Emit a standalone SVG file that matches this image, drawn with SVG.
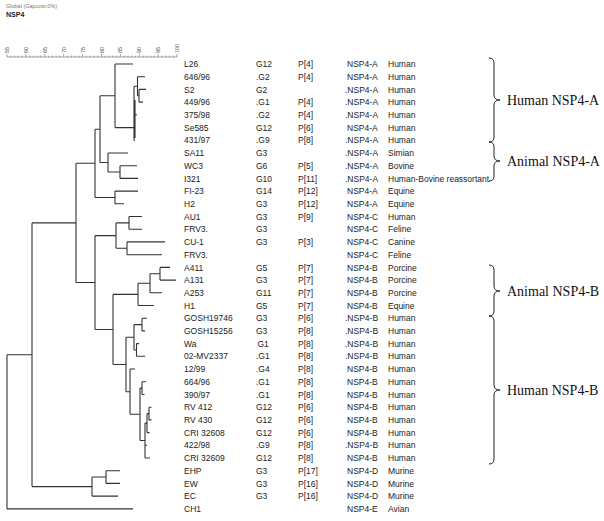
<svg xmlns="http://www.w3.org/2000/svg" width="604" height="521" viewBox="0 0 604 521">
<style>
.t{font-family:"Liberation Sans",Arial,sans-serif;font-size:8.5px;fill:#222}
.ax{font-family:"Liberation Sans",Arial,sans-serif;font-size:5.5px;fill:#555}
.br{fill:none;stroke:#222;stroke-width:1}
.bl{font-family:"Liberation Serif","Times New Roman",serif;font-size:14px;fill:#111}
.tr{fill:none;stroke:#333;stroke-width:1.1}
.tk{stroke:#666;stroke-width:0.6}
</style>
<rect width="604" height="521" fill="#fff"/>
<g id="header">
<text x="6" y="8" class="ax" style="font-size:5.5px;fill:#777">Global (Gapcost:0%)</text>
<text x="6" y="17" class="t" style="font-size:7px;font-weight:bold">NSP4</text>
</g>
<g id="scale">
<line x1="7" y1="57" x2="177" y2="57" class="tk"/>
<path class="tk" d="M7 57V54M10.8 57V55.5M14.6 57V55.5M18.3 57V55.5M22.1 57V55.5M25.9 57V54M29.7 57V55.5M33.5 57V55.5M37.2 57V55.5M41 57V55.5M44.8 57V54M48.6 57V55.5M52.4 57V55.5M56.1 57V55.5M59.9 57V55.5M63.7 57V54M67.5 57V55.5M71.3 57V55.5M75 57V55.5M78.8 57V55.5M82.6 57V54M86.4 57V55.5M90.2 57V55.5M93.9 57V55.5M97.7 57V55.5M101.5 57V54M105.3 57V55.5M109.1 57V55.5M112.8 57V55.5M116.6 57V55.5M120.4 57V54M124.2 57V55.5M128 57V55.5M131.7 57V55.5M135.5 57V55.5M139.3 57V54M143.1 57V55.5M146.9 57V55.5M150.6 57V55.5M154.4 57V55.5M158.2 57V54M162 57V55.5M165.8 57V55.5M169.5 57V55.5M173.3 57V55.5M177 57V54"/>
<text class="ax" transform="translate(9,53) rotate(-90)">55</text>
<text class="ax" transform="translate(27.9,53) rotate(-90)">60</text>
<text class="ax" transform="translate(46.8,53) rotate(-90)">65</text>
<text class="ax" transform="translate(65.7,53) rotate(-90)">70</text>
<text class="ax" transform="translate(84.6,53) rotate(-90)">75</text>
<text class="ax" transform="translate(103.5,53) rotate(-90)">80</text>
<text class="ax" transform="translate(122.4,53) rotate(-90)">85</text>
<text class="ax" transform="translate(141.3,53) rotate(-90)">90</text>
<text class="ax" transform="translate(160.2,53) rotate(-90)">95</text>
<text class="ax" transform="translate(179,53) rotate(-90)">100</text>
</g>
<g id="connectors">
<path class="tr" d="M139 89.4V102.1M139 89.4H146M139 102.1H143
M137.5 76.7V95.8M137.5 76.7H145M137.5 95.8H139
M134 86.2V140.3M135 100V138M134 86.2H137.5M134 114.8H137M134 127.6H135.5M134 140.3H135
M115 64V127.6M115 64H133M115 127.6H134
M120 165.7V178.4M120 165.7H137M120 178.4H138
M108 153V172M108 153H128M108 172H120
M100 95.8V162.5M100 95.8H115M100 162.5H108
M115 191.1V203.8M115 191.1H138M115 203.8H124
M95 129.2V197.5M95 129.2H100M95 197.5H115
M129 216.5V229.2M129 216.5H142M129 229.2H142
M127 241.9V254.7M127 241.9H165M127 254.7H162
M116 222.9V248.3M116 222.9H129M116 248.3H127
M160 267.4V280.1M160 267.4H170M160 280.1H176
M150 273.7V292.8M150 273.7H160M150 292.8H162
M138 283.3V305.5M138 283.3H150M138 305.5H154
M142 318.2V330.9M142 318.2H147M142 330.9H145
M136.5 343.6V356.3M136.5 343.6H139M136.5 356.3H145
M134 324.6V350M134 324.6H142M134 350H136.5
M142 381.8V394.5M142 381.8H146M142 394.5H144.5
M149 407.2V419.9M149 407.2H151.5M149 419.9H151.5
M147 413.6V432.6M147 413.6H149M147 432.6H149.5
M145 423.1V458M145 423.1H147M145 445.3H147M145 458H150
M140 388.1V440.5M140 388.1H142M140 440.5H145
M130 369V414.3M130 369H135M130 414.3H140
M126 337.3V391.7M126 337.3H134M126 391.7H130
M113 294.4V364.5M113 294.4H138M113 364.5H126
M95 235.6V329.5M95 235.6H116M95 329.5H113
M76 163.3V282.5M76 163.3H95M76 282.5H95
M106 470.7V483.4M106 470.7H120M106 483.4H120
M92 477V496.1M92 477H106M92 496.1H118
M32 222.9V486.6M32 222.9H76M32 486.6H92
M7 354.7V508.9M7 354.7H32M7 508.9H133"/>
</g>
<g id="table">
<text class="t" y="67.1"><tspan x="184">L26</tspan><tspan x="256">G12</tspan><tspan x="298">P[4]</tspan><tspan x="347">NSP4-A</tspan><tspan x="388">Human</tspan></text>
<text class="t" y="79.8"><tspan x="184">646/96</tspan><tspan x="256">.G2</tspan><tspan x="298">P[4]</tspan><tspan x="347">NSP4-A</tspan><tspan x="388">Human</tspan></text>
<text class="t" y="92.5"><tspan x="184">S2</tspan><tspan x="256">G2</tspan><tspan x="345">.NSP4-A</tspan><tspan x="388">Human</tspan></text>
<text class="t" y="105.2"><tspan x="184">449/96</tspan><tspan x="256">.G1</tspan><tspan x="298">P[4]</tspan><tspan x="345">.NSP4-A</tspan><tspan x="388">Human</tspan></text>
<text class="t" y="117.9"><tspan x="184">375/98</tspan><tspan x="256">.G2</tspan><tspan x="298">P[4]</tspan><tspan x="345">.NSP4-A</tspan><tspan x="388">Human</tspan></text>
<text class="t" y="130.7"><tspan x="184">Se585</tspan><tspan x="256">G12</tspan><tspan x="298">P[6]</tspan><tspan x="347">NSP4-A</tspan><tspan x="388">Human</tspan></text>
<text class="t" y="143.4"><tspan x="184">431/97</tspan><tspan x="256">.G9</tspan><tspan x="298">P[8]</tspan><tspan x="345">.NSP4-A</tspan><tspan x="388">Human</tspan></text>
<text class="t" y="156.1"><tspan x="184">SA11</tspan><tspan x="256">G3</tspan><tspan x="345">.NSP4-A</tspan><tspan x="388">Simian</tspan></text>
<text class="t" y="168.8"><tspan x="184">WC3</tspan><tspan x="256">G6</tspan><tspan x="298">P[5]</tspan><tspan x="345">.NSP4-A</tspan><tspan x="388">Bovine</tspan></text>
<text class="t" y="181.5"><tspan x="184">I321</tspan><tspan x="256">G10</tspan><tspan x="298">P[11]</tspan><tspan x="345">.NSP4-A</tspan><tspan x="388">Human-Bovine reassortant</tspan></text>
<text class="t" y="194.2"><tspan x="184">FI-23</tspan><tspan x="256">G14</tspan><tspan x="298">P[12]</tspan><tspan x="347">NSP4-A</tspan><tspan x="388">Equine</tspan></text>
<text class="t" y="206.9"><tspan x="184">H2</tspan><tspan x="256">G3</tspan><tspan x="298">P[12]</tspan><tspan x="347">NSP4-A</tspan><tspan x="388">Equine</tspan></text>
<text class="t" y="219.6"><tspan x="184">AU1</tspan><tspan x="256">G3</tspan><tspan x="298">P[9]</tspan><tspan x="347">NSP4-C</tspan><tspan x="388">Human</tspan></text>
<text class="t" y="232.3"><tspan x="184">FRV3.</tspan><tspan x="256">G3</tspan><tspan x="347">NSP4-C</tspan><tspan x="388">Feline</tspan></text>
<text class="t" y="245"><tspan x="184">CU-1</tspan><tspan x="256">G3</tspan><tspan x="298">P[3]</tspan><tspan x="347">NSP4-C</tspan><tspan x="388">Canine</tspan></text>
<text class="t" y="257.8"><tspan x="184">FRV3.</tspan><tspan x="347">NSP4-C</tspan><tspan x="388">Feline</tspan></text>
<text class="t" y="270.5"><tspan x="184">A411</tspan><tspan x="256">G5</tspan><tspan x="298">P[7]</tspan><tspan x="347">NSP4-B</tspan><tspan x="388">Porcine</tspan></text>
<text class="t" y="283.2"><tspan x="184">A131</tspan><tspan x="256">G3</tspan><tspan x="298">P[7]</tspan><tspan x="347">NSP4-B</tspan><tspan x="388">Porcine</tspan></text>
<text class="t" y="295.9"><tspan x="184">A253</tspan><tspan x="256">G11</tspan><tspan x="298">P[7]</tspan><tspan x="347">NSP4-B</tspan><tspan x="388">Porcine</tspan></text>
<text class="t" y="308.6"><tspan x="184">H1</tspan><tspan x="256">G5</tspan><tspan x="298">P[7]</tspan><tspan x="347">NSP4-B</tspan><tspan x="388">Equine</tspan></text>
<text class="t" y="321.3"><tspan x="184">GOSH19746</tspan><tspan x="256">G3</tspan><tspan x="298">P[6]</tspan><tspan x="345">.NSP4-B</tspan><tspan x="388">Human</tspan></text>
<text class="t" y="334"><tspan x="184">GOSH15256</tspan><tspan x="256">G3</tspan><tspan x="298">P[8]</tspan><tspan x="345">.NSP4-B</tspan><tspan x="388">Human</tspan></text>
<text class="t" y="346.7"><tspan x="184">Wa</tspan><tspan x="257.5">G1</tspan><tspan x="298">P[8]</tspan><tspan x="345">.NSP4-B</tspan><tspan x="388">Human</tspan></text>
<text class="t" y="359.4"><tspan x="184">02-MV2337</tspan><tspan x="256">.G1</tspan><tspan x="298">P[8]</tspan><tspan x="345">.NSP4-B</tspan><tspan x="388">Human</tspan></text>
<text class="t" y="372.1"><tspan x="184">12/99</tspan><tspan x="256">.G4</tspan><tspan x="298">P[8]</tspan><tspan x="347">NSP4-B</tspan><tspan x="388">Human</tspan></text>
<text class="t" y="384.9"><tspan x="184">664/96</tspan><tspan x="256">.G1</tspan><tspan x="298">P[8]</tspan><tspan x="347">NSP4-B</tspan><tspan x="388">Human</tspan></text>
<text class="t" y="397.6"><tspan x="184">390/97</tspan><tspan x="256">.G1</tspan><tspan x="298">P[8]</tspan><tspan x="347">NSP4-B</tspan><tspan x="388">Human</tspan></text>
<text class="t" y="410.3"><tspan x="184">RV 412</tspan><tspan x="256">G12</tspan><tspan x="298">P[6]</tspan><tspan x="347">NSP4-B</tspan><tspan x="388">Human</tspan></text>
<text class="t" y="423"><tspan x="184">RV 430</tspan><tspan x="256">G12</tspan><tspan x="298">P[6]</tspan><tspan x="347">NSP4-B</tspan><tspan x="388">Human</tspan></text>
<text class="t" y="435.7"><tspan x="184">CRI 32608</tspan><tspan x="256">G12</tspan><tspan x="298">P[6]</tspan><tspan x="347">NSP4-B</tspan><tspan x="388">Human</tspan></text>
<text class="t" y="448.4"><tspan x="184">422/98</tspan><tspan x="256">.G9</tspan><tspan x="298">P[8]</tspan><tspan x="345">.NSP4-B</tspan><tspan x="388">Human</tspan></text>
<text class="t" y="461.1"><tspan x="184">CRI 32609</tspan><tspan x="256">G12</tspan><tspan x="298">P[8]</tspan><tspan x="347">NSP4-B</tspan><tspan x="388">Human</tspan></text>
<text class="t" y="473.8"><tspan x="184">EHP</tspan><tspan x="256">G3</tspan><tspan x="298">P[17]</tspan><tspan x="347">NSP4-D</tspan><tspan x="388">Murine</tspan></text>
<text class="t" y="486.5"><tspan x="184">EW</tspan><tspan x="256">G3</tspan><tspan x="298">P[16]</tspan><tspan x="347">NSP4-D</tspan><tspan x="388">Murine</tspan></text>
<text class="t" y="499.2"><tspan x="184">EC</tspan><tspan x="256">G3</tspan><tspan x="298">P[16]</tspan><tspan x="347">NSP4-D</tspan><tspan x="388">Murine</tspan></text>
<text class="t" y="512"><tspan x="184">CH1</tspan><tspan x="347">NSP4-E</tspan><tspan x="388">Avian</tspan></text>
</g>
<g id="group-human-a">
<path class="br" d="M489 58Q494 58 494 63V95Q494 100 500 100Q494 100 494 105V137Q494 142 489 142"/>
<text class="bl" x="507" y="105">Human NSP4-A</text>
</g>
<g id="group-animal-a">
<path class="br" d="M489 142Q494 142 494 147V156Q494 161 500 161Q494 161 494 166V176Q494 181 489 181"/>
<text class="bl" x="507" y="166">Animal NSP4-A</text>
</g>
<g id="group-animal-b">
<path class="br" d="M489 265Q494 265 494 270V286Q494 291 500 291Q494 291 494 296V311Q494 316 489 316"/>
<text class="bl" x="507" y="296">Animal NSP4-B</text>
</g>
<g id="group-human-b">
<path class="br" d="M489 316Q494 316 494 321V385Q494 390 500 390Q494 390 494 395V459Q494 464 489 464"/>
<text class="bl" x="507" y="395">Human NSP4-B</text>
</g>
</svg>
